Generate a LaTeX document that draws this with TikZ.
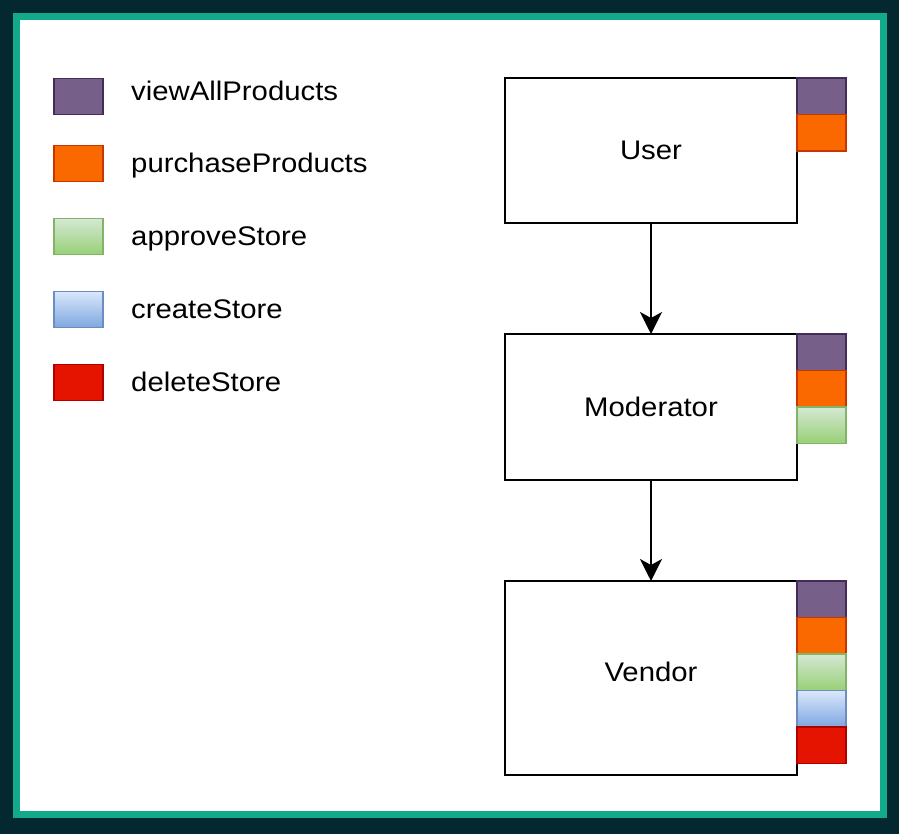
\documentclass[tikz,border=0pt]{standalone}
\usepackage{fontspec}
\setmainfont{Liberation Sans}[FakeStretch=1.09]
\usepackage{tikz}
\usetikzlibrary{positioning, arrows.meta}

\definecolor{bgdark}{HTML}{03282F}
\definecolor{frameteal}{HTML}{13A98B}
\definecolor{viewfill}{HTML}{76608A}
\definecolor{viewline}{HTML}{432D57}
\definecolor{buyfill}{HTML}{FA6800}
\definecolor{buyline}{HTML}{C73500}
\definecolor{approvetop}{HTML}{D5E8D4}
\definecolor{approvebot}{HTML}{97D077}
\definecolor{approveline}{HTML}{82B366}
\definecolor{createtop}{HTML}{DAE8FC}
\definecolor{createbot}{HTML}{7EA6E0}
\definecolor{createline}{HTML}{6C8EBF}
\definecolor{deletefill}{HTML}{E51400}
\definecolor{deleteline}{HTML}{B20000}

\tikzset{
  role/.style={draw=black, fill=white, line width=1.6bp, minimum width=292bp,
    inner sep=0pt, outer sep=0pt},
  perm/.style={line width=1.4bp, minimum width=49bp, minimum height=36.5bp,
    inner sep=0pt, outer sep=0pt},
  pview/.style={perm, fill=viewfill, draw=viewline},
  pbuy/.style={perm, fill=buyfill, draw=buyline},
  papprove/.style={perm, top color=approvetop, bottom color=approvebot, draw=approveline},
  pcreate/.style={perm, top color=createtop, bottom color=createbot, draw=createline},
  pdelete/.style={perm, fill=deletefill, draw=deleteline},
  legendtext/.style={inner sep=0pt, anchor=base west},
  flow/.style={-{Stealth[length=22bp, width=22bp, inset=6bp]}, line width=1.6bp}
}

\begin{document}
\begin{tikzpicture}[x=1bp, y=-1bp, font=\fontsize{27}{30}\selectfont]
  \useasboundingbox (0,0) rectangle (899,834);
%%
  % Frame
  \fill[bgdark] (0,0) rectangle (899,834);
  \draw[frameteal, line width=7bp, fill=white] (16.5,16.5) rectangle (883.5,814);
  % Legend
  \node[pview] (lview) at (78.5,96.5) {};
  \node[legendtext] (tview) at (131,100) {viewAllProducts};
  \node[pbuy] (lbuy) at (78.5,163.5) {};
  \node[legendtext] (tbuy) at (131,172) {purchaseProducts};
  \node[papprove] (lapprove) at (78.5,236.5) {};
  \node[legendtext] (tapprove) at (131,245) {approveStore};
  \node[pcreate] (lcreate) at (78.5,309.5) {};
  \node[legendtext] (tcreate) at (131,318) {createStore};
  \node[pdelete] (ldelete) at (78.5,382.5) {};
  \node[legendtext] (tdelete) at (131,391) {deleteStore};
  % Node: User
  \node[role, minimum height=145bp] (user) at (651,150.5) {User};
  \node[pview, anchor=north west] (uview) at (user.north east) {};
  \node[pbuy, below=0pt of uview] (ubuy) {};
  % Node: Moderator
  \node[role, minimum height=146bp] (moderator) at (651,407) {Moderator};
  \node[pview, anchor=north west] (mview) at (moderator.north east) {};
  \node[pbuy, below=0pt of mview] (mbuy) {};
  \node[papprove, below=0pt of mbuy] (mapprove) {};
  % Node: Vendor
  \node[role, minimum height=194bp, text depth=12bp] (vendor) at (651,678) {Vendor};
  \node[pview, anchor=north west] (vview) at (vendor.north east) {};
  \node[pbuy, below=0pt of vview] (vbuy) {};
  \node[papprove, below=0pt of vbuy] (vapprove) {};
  \node[pcreate, below=0pt of vapprove] (vcreate) {};
  \node[pdelete, below=0pt of vcreate] (vdelete) {};
  % Edge: User -- Moderator
  \draw[flow] (user) -- (moderator);
  % Edge: Moderator -- Vendor
  \draw[flow] (moderator) -- (vendor);
%
\end{tikzpicture}
\end{document}
